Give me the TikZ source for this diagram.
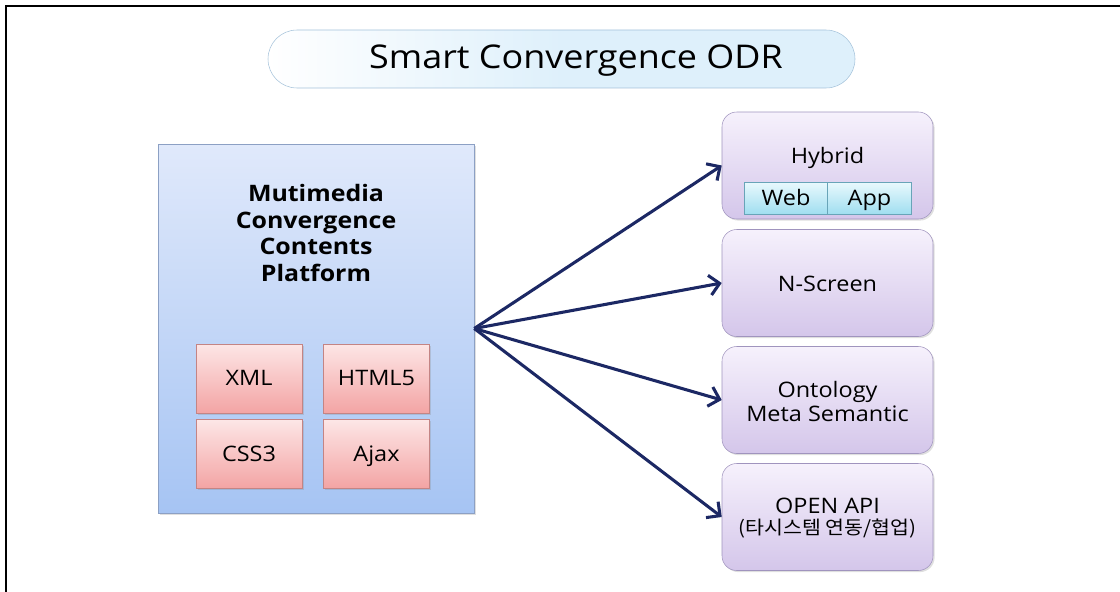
\documentclass[tikz,border=0pt]{standalone}
\usepackage{fontspec}
\setmainfont{Open Sans}[FakeStretch=1.1]
\newfontfamily\krfont{Noto Sans CJK KR}[FakeStretch=1.1]
\usetikzlibrary{arrows.meta,shadows}

\definecolor{platTop}{RGB}{224,233,251}
\definecolor{platBot}{RGB}{166,196,243}
\definecolor{platLine}{RGB}{140,160,196}
\definecolor{techTop}{RGB}{253,230,230}
\definecolor{techBot}{RGB}{243,164,164}
\definecolor{techLine}{RGB}{196,132,132}
\definecolor{outTop}{RGB}{246,241,252}
\definecolor{outBot}{RGB}{212,198,234}
\definecolor{outLine}{RGB}{160,148,190}
\definecolor{webTop}{RGB}{233,249,253}
\definecolor{webBot}{RGB}{160,222,240}
\definecolor{webLine}{RGB}{104,164,184}
\definecolor{pillFill}{RGB}{222,240,251}
\definecolor{pillLine}{RGB}{164,194,218}
\definecolor{navy}{RGB}{28,40,100}

\tikzset{
  softshadow/.style={drop shadow={opacity=0.25,shadow xshift=1.2pt,shadow yshift=-1.2pt}},
  platform/.style={draw=platLine, top color=platTop, bottom color=platBot,
    minimum width=237pt, minimum height=276.75pt, softshadow},
  tech/.style={draw=techLine, top color=techTop, bottom color=techBot,
    minimum width=79.5pt, minimum height=51.75pt, text height=2.1ex, text depth=.1ex,
    font=\fontsize{16}{19}\selectfont, softshadow},
  target/.style={draw=outLine, top color=outTop, bottom color=outBot, rounded corners=11pt,
    minimum width=158.25pt, minimum height=80.25pt, softshadow},
  part/.style={draw=webLine, top color=webTop, bottom color=webBot,
    minimum width=63pt, minimum height=24pt, text height=2.1ex, text depth=.1ex,
    font=\fontsize{16}{19}\selectfont},
  lbl/.style={font=\fontsize{16}{18}\selectfont, align=center},
  arr/.style={draw=navy, line width=2.3pt, -{Straight Barb[length=7.5pt,width=15pt]}}
}

\begin{document}
\begin{tikzpicture}[x=0.75pt,y=-0.75pt]
  \useasboundingbox (0,0) rectangle (1120,592);
  \draw[line width=1.1pt] (6,592) -- (6,6) -- (1120,6);

  % title bar
  \node[draw=pillLine, rounded corners=21.75pt, left color=white, right color=pillFill,
    middle color=pillFill, minimum width=440.25pt, minimum height=43.5pt] (pill) at (561.5,59) {};
  \node[font=\fontsize{24.5}{28}\selectfont] (title) at (576,61) {Smart Convergence ODR};

  % platform with its four technologies
  \node[platform] (platform) at (316,328.5) {};
  \node[font=\bfseries\fontsize{17}{20}\selectfont, align=center] (plattext) at (316,233)
    {Mutimedia\\Convergence\\Contents\\Platform};
  \node[tech] (xml)   at (249,378.5) {XML};
  \node[tech] (html)  at (376.5,378.5) {HTML5};
  \node[tech] (css)   at (249,454) {CSS3};
  \node[tech] (ajax)  at (376.5,454) {Ajax};

  % targets
  \node[target] (hybrid)   at (827.5,165.5) {};
  \node[target] (nscreen)  at (827.5,283) {};
  \node[target] (ontology) at (827.5,400) {};
  \node[target] (openapi)  at (827.5,517) {};

  \node[lbl] (hybridtext) at (827.5,158) {Hybrid};
  \node[part] (web) at (786,198) {Web};
  \node[part] (app) at (869.5,198) {App};
  \node[lbl] (nstext) at (827.5,284) {N-Screen};
  \node[lbl] (ontext) at (827.5,401) {Ontology\\Meta Semantic};
  \node[lbl] (apitext) at (827.5,506) {OPEN API};
  \node[font=\krfont\fontsize{14}{16}\selectfont] (kortext) at (827.5,529) {(타시스템 연동/협업)};

  % connectors
  \draw[arr] (platform.east) -- (hybrid.west);
  \draw[arr] (platform.east) -- (nscreen.west);
  \draw[arr] (platform.east) -- (ontology.west);
  \draw[arr] (platform.east) -- (openapi.west);
\end{tikzpicture}
\end{document}
